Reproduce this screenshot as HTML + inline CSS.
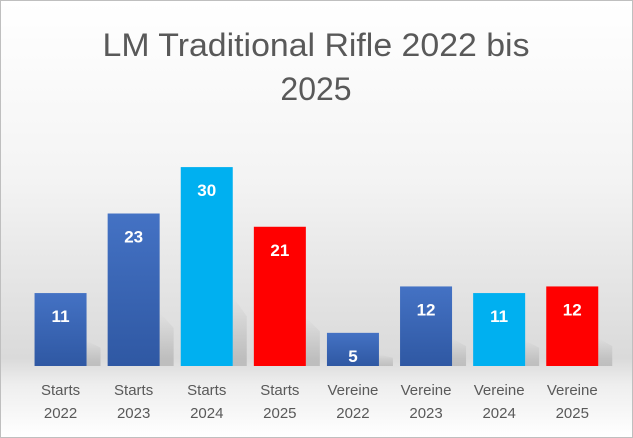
<!DOCTYPE html>
<html><head><meta charset="utf-8"><style>
html,body{margin:0;padding:0}
body{width:633px;height:438px;overflow:hidden;font-family:"Liberation Sans",sans-serif}
#chart{position:absolute;left:0;top:0;width:631px;height:436px;border:1px solid #bfbfbf;
background:linear-gradient(to bottom,#ffffff 0%,#f4f4f4 40%,#dadada 82%,#eeeeee 88%,#ffffff 100%)}
</style></head><body>
<div id="chart">
<svg id="svg" width="633" height="438" style="position:absolute;left:-1px;top:-1px">
<defs>
<linearGradient id="gBlue" x1="0" y1="0" x2="0" y2="1"><stop offset="0" stop-color="#4472c4"/><stop offset="1" stop-color="#2f58a3"/></linearGradient>
<linearGradient id="gShadow" x1="0" y1="0" x2="0" y2="1"><stop offset="0" stop-color="#000" stop-opacity="0"/><stop offset="1" stop-color="#000" stop-opacity="0.15"/></linearGradient>
</defs>
<text x="316" y="56" text-anchor="middle" font-size="32" textLength="427" lengthAdjust="spacingAndGlyphs" fill="#595959">LM Traditional Rifle 2022 bis</text>
<text x="316" y="100" text-anchor="middle" font-size="32" fill="#595959">2025</text>
<g id="bars"></g>
</svg>
</div>
<script>
const categories=["Starts 2022","Starts 2023","Starts 2024","Starts 2025","Vereine 2022","Vereine 2023","Vereine 2024","Vereine 2025"];
const values=[11,23,30,21,5,12,11,12];
const colorKeys=["blue","blue","cyan","red","blue","blue","cyan","red"];
const palette={blue:"url(#gBlue)",cyan:"#00b0f0",red:"#ff0000"};
const NS="http://www.w3.org/2000/svg";
const baseY=366,unit=6.63,x0=24,step=73.1,bw=52;
const yScale=v=>baseY-v*unit;
const xScale=i=>x0+step*i+step/2;
const g=document.getElementById("bars");
values.forEach((v,i)=>{
  const cx=xScale(i),top=yScale(v);
  const h=baseY-top;
  const sh=document.createElementNS(NS,"polygon");
  
  
  sh.setAttribute("points",`${cx+bw/2},${baseY-h*0.35} ${cx+bw/2+14},${baseY-h*0.25} ${cx+bw/2+14},${baseY} ${cx+bw/2},${baseY}`);
  sh.setAttribute("fill","url(#gShadow)");
  g.appendChild(sh);
  const r=document.createElementNS(NS,"rect");
  
  
  r.setAttribute("x",cx-bw/2);r.setAttribute("y",top);r.setAttribute("width",bw);r.setAttribute("height",h);
  r.setAttribute("fill",palette[colorKeys[i]]);
  g.appendChild(r);
  const t=document.createElementNS(NS,"text");
  
  
  t.setAttribute("x",cx);t.setAttribute("y",top+29);t.setAttribute("text-anchor","middle");
  t.setAttribute("font-size","17");t.setAttribute("font-weight","bold");t.setAttribute("fill","#fff");
  t.textContent=v;g.appendChild(t);
  const parts=categories[i].split(" ");
  parts.forEach((p,k)=>{
    const l=document.createElementNS(NS,"text");
    
    
    l.setAttribute("x",cx);l.setAttribute("y",395+k*23);l.setAttribute("text-anchor","middle");
    l.setAttribute("font-size","15");l.setAttribute("fill","#595959");
    l.textContent=p;g.appendChild(l);
  });
});
</script>
</body></html>
